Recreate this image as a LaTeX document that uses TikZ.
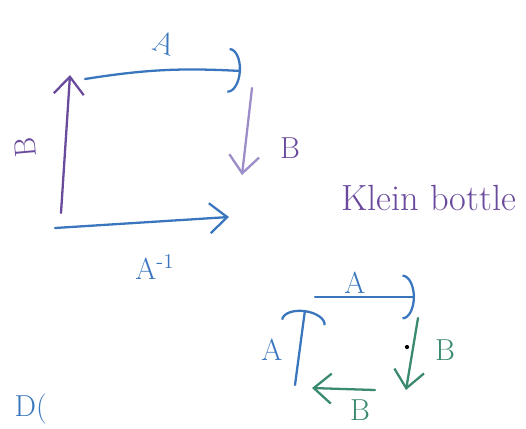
\documentclass[tikz,border=0pt]{standalone}
\usetikzlibrary{arrows.meta,positioning}
\definecolor{penblue}{HTML}{3A76BE}
\definecolor{penpurple}{HTML}{6A4A9C}
\definecolor{penlilac}{HTML}{9C8CC8}
\definecolor{pengreen}{HTML}{3A8A70}
\tikzset{
  side/.style={line width=1.3pt, line cap=round},
  barb/.style={-{Straight Barb[length=3.5mm,width=6mm]}},
  bow/.style={-{Arc Barb[length=2.5mm,width=9mm]}},
  tag/.style={font=\LARGE, inner sep=1pt}
}

\begin{document}
\begin{tikzpicture}
  \useasboundingbox (0,0) rectangle (10.52,8.56);

  % big square
  \coordinate (ts) at (1.70,6.98);
  \coordinate (tr) at (4.82,7.14);
  \coordinate (rt) at (5.04,6.80);
  \coordinate (rb) at (4.84,5.06);
  \coordinate (bl) at (1.10,4.00);
  \coordinate (br) at (4.58,4.22);
  \coordinate (lb) at (1.22,4.30);
  \coordinate (tl) at (1.40,7.06);

  \draw[side, bow, penblue, bend left=6] (ts) to (tr);
  \draw[side, barb, penlilac] (rt) -- (rb);
  \draw[side, barb, penblue] (bl) -- (br);
  \draw[side, barb, penpurple] (lb) -- (tl);

  \node[tag, penblue, rotate=-20] (topA) at (3.30,7.70) {A};
  \node[tag, penpurple, rotate=95] (leftB) at (0.50,5.60) {B};
  \node[tag, penpurple] (rightB) at (5.80,5.60) {B};
  \node[tag, penblue] (botA) at (3.10,3.22) {A\textsuperscript{-1}};

  \node[font=\huge, penpurple, anchor=west] (title) at (6.70,4.60) {Klein bottle};

  % small square
  \coordinate (sa) at (6.30,2.62);
  \coordinate (sb) at (8.30,2.62);
  \coordinate (sc) at (5.90,0.86);
  \coordinate (sd) at (6.10,2.36);
  \coordinate (se) at (8.36,2.20);
  \coordinate (sf) at (8.12,0.76);
  \coordinate (sg) at (7.50,0.76);
  \coordinate (sh) at (6.24,0.80);

  \draw[side, bow, penblue] (sa) -- (sb);
  \draw[side, bow, penblue] (sc) -- (sd);
  \draw[side, barb, pengreen] (se) -- (sf);
  \draw[side, barb, pengreen] (sg) -- (sh);

  \node[tag, penblue] (sA1) at (7.10,2.90) {A};
  \node[tag, penblue] (sA2) at (5.44,1.56) {A};
  \node[tag, pengreen] (sB1) at (8.90,1.56) {B};
  \node[tag, pengreen] (sB2) at (7.20,0.36) {B};
  \fill (8.14,1.62) circle (1.2pt);

  \node[tag, penblue, anchor=south west] (cut) at (0.25,0.04) {D(};
\end{tikzpicture}
\end{document}
